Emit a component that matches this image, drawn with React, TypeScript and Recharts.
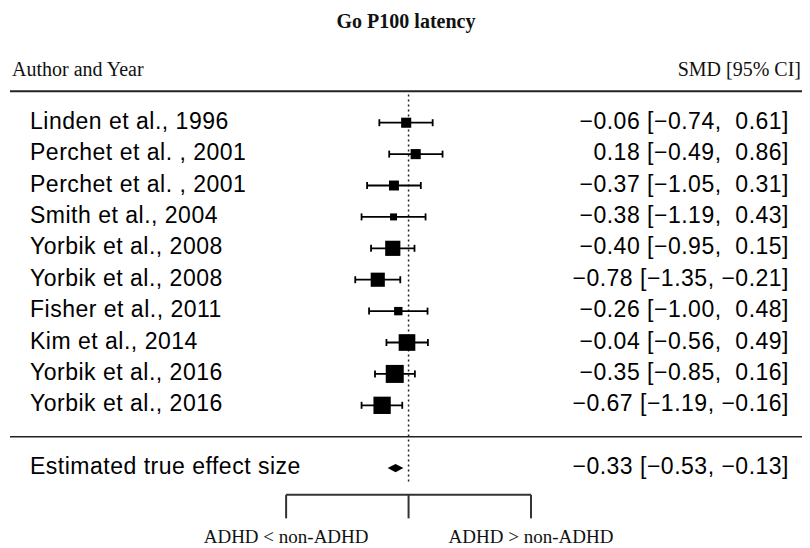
import React from 'react';
import {
  ScatterChart,
  Scatter,
  XAxis,
  YAxis,
  ErrorBar,
  ReferenceLine,
  ReferenceArea,
} from 'recharts';

// study rows, top to bottom
const studies = [
  'Linden et al., 1996',
  'Perchet et al. , 2001',
  'Perchet et al. , 2001',
  'Smith et al., 2004',
  'Yorbik et al., 2008',
  'Yorbik et al., 2008',
  'Fisher et al., 2011',
  'Kim et al., 2014',
  'Yorbik et al., 2016',
  'Yorbik et al., 2016',
];
const smd = [-0.06, 0.18, -0.37, -0.38, -0.4, -0.78, -0.26, -0.04, -0.35, -0.67];
const ciLow = [-0.74, -0.49, -1.05, -1.19, -0.95, -1.35, -1.0, -0.56, -0.85, -1.19];
const ciHigh = [0.61, 0.86, 0.31, 0.43, 0.15, -0.21, 0.48, 0.49, 0.16, -0.16];

const summaryLabel = 'Estimated true effect size';
const summaryEst = -0.33;
const summaryLow = -0.53;
const summaryHigh = -0.13;

const bracketTicks = [-3.1, 0, 3.1];
const bracketLabels = ['ADHD < non-ADHD', '', 'ADHD > non-ADHD'];

// row layout (metafor style): studies 0..9, rule at 10, summary at 11
const topRule = -1;
const midRule = 10;
const summaryRow = 11;
const bracketTop = 11.85;
const bracketBottom = 12.6;

const W = 810;
const H = 548;
const serif = '"Liberation Serif", "Times New Roman", serif';
const sans = '"Liberation Sans", Arial, Helvetica, sans-serif';

const fmt = (v: number) => (v < 0 ? '\u2212' : '') + Math.abs(v).toFixed(2);
const ciText = (e: number, l: number, h: number) =>
  `${fmt(e)} [${fmt(l)}, ${h < 0 ? '' : ' '}${fmt(h)}]`;

// inverse-variance weights from the CI widths -> square size
const weights = ciLow.map((l, i) => {
  const se = (ciHigh[i] - l) / 3.92;
  return 1 / (se * se);
});
const wMin = Math.min(...weights);
const wMax = Math.max(...weights);

const rows = studies.map((name, i) => ({
  x: smd[i],
  y: i,
  err: [smd[i] - ciLow[i], ciHigh[i] - smd[i]],
  w: weights[i],
  name,
  ci: ciText(smd[i], ciLow[i], ciHigh[i]),
}));

const summaryRows = [
  {
    x: summaryEst,
    y: summaryRow,
    name: summaryLabel,
    ci: ciText(summaryEst, summaryLow, summaryHigh),
  },
];

const textStyle = {
  fontFamily: sans,
  fontSize: 23,
  letterSpacing: 0.5,
  fill: '#000',
  whiteSpace: 'pre' as const,
};

function RowText({ cy, payload }: any) {
  return (
    <g>
      <text x={30} y={cy + 6} style={textStyle} textAnchor="start">
        {payload.name}
      </text>
      <text x={789} y={cy + 6} style={textStyle} textAnchor="end">
        {payload.ci}
      </text>
    </g>
  );
}

function Square(props: any) {
  const { cx, cy, payload } = props;
  const s = 7 + ((payload.w - wMin) / (wMax - wMin)) * 11;
  return (
    <g>
      <rect x={cx - s / 2} y={cy - s / 2} width={s} height={s} fill="#000" />
      <RowText {...props} />
    </g>
  );
}

function Diamond(props: any) {
  const { x, y, width, height } = props;
  const xe = x + (width * (summaryEst - summaryLow)) / (summaryHigh - summaryLow);
  const ym = y + height / 2;
  const pts = `${x},${ym} ${xe},${y} ${x + width},${ym} ${xe},${y + height}`;
  return <polygon points={pts} fill="#000" />;
}

export default function App() {
  return (
    <div style={{ position: 'relative', width: W, height: H, background: '#fff' }}>
      <style>{'body{margin:0}'}</style>
      <ScatterChart width={W} height={H} margin={{ top: 0, right: 8, bottom: 0, left: 10 }}>
        <XAxis type="number" dataKey="x" domain={[-10.09, 9.96]} allowDataOverflow hide />
        <YAxis
          type="number"
          dataKey="y"
          domain={[-3.908, 13.544]}
          reversed
          allowDataOverflow
          hide
        />
        <ReferenceLine y={topRule} stroke="#222" strokeWidth={2} />
        <ReferenceLine y={midRule} stroke="#222" strokeWidth={1.6} />
        <ReferenceLine
          segment={[
            { x: 0, y: -0.9 },
            { x: 0, y: 11.45 },
          ]}
          stroke="#222"
          strokeWidth={1.5}
          strokeDasharray="2 3"
        />
        <ReferenceLine
          segment={[
            { x: bracketTicks[0], y: bracketTop },
            { x: bracketTicks[bracketTicks.length - 1], y: bracketTop },
          ]}
          stroke="#333"
          strokeWidth={2}
        />
        {bracketTicks.map((t, i) => (
          <ReferenceLine
            key={i}
            segment={[
              { x: t, y: bracketTop },
              { x: t, y: bracketBottom },
            ]}
            stroke="#333"
            strokeWidth={2}
            label={(p: any) => (
              <text
                x={p.viewBox.x}
                y={543}
                textAnchor="middle"
                style={{ fontFamily: serif, fontSize: 19, fill: '#111' }}
              >
                {bracketLabels[i]}
              </text>
            )}
          />
        ))}
        <ReferenceArea
          x1={summaryLow}
          x2={summaryHigh}
          y1={summaryRow - 0.13}
          y2={summaryRow + 0.13}
          shape={<Diamond />}
        />
        <Scatter data={rows} shape={<Square />} isAnimationActive={false}>
          <ErrorBar dataKey="err" direction="x" width={3.5} stroke="#000" strokeWidth={1.8} />
        </Scatter>
        <Scatter data={summaryRows} shape={<RowText />} isAnimationActive={false} />
      </ScatterChart>
      <svg
        width={W}
        height={H}
        style={{ position: 'absolute', left: 0, top: 0, pointerEvents: 'none' }}
      >
        <text
          x={406}
          y={28}
          textAnchor="middle"
          style={{ fontFamily: serif, fontSize: 20, fontWeight: 'bold', fill: '#111' }}
        >
          Go P100 latency
        </text>
        <text x={12} y={76} style={{ fontFamily: serif, fontSize: 20, fill: '#111' }}>
          Author and Year
        </text>
        <text
          x={801}
          y={76}
          textAnchor="end"
          style={{ fontFamily: serif, fontSize: 20, fill: '#111' }}
        >
          SMD [95% CI]
        </text>
      </svg>
    </div>
  );
}
